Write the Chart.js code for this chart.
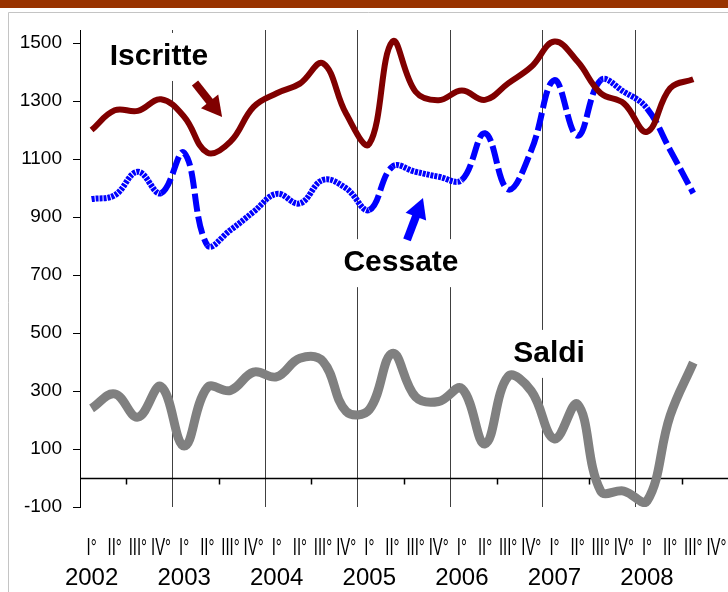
<!DOCTYPE html>
<html>
<head>
<meta charset="utf-8">
<script src="https://cdn.jsdelivr.net/npm/chart.js@4.4.1/dist/chart.umd.min.js"></script>
<style>
    body { margin: 0; background: #fff; }
    canvas { display: block; }
</style>
</head>
<body>
<canvas id="myChart" width="728" height="592"></canvas>
<script>

const years = ['2002', '2003', '2004', '2005', '2006', '2007', '2008'];
const quarters = ['I°', 'II°', 'III°', 'IV°'];

// quarterly values, I° 2002 .. III° 2008
const iscritte = [1200, 1268, 1266, 1306, 1246, 1122, 1160, 1280, 1327, 1360, 1430, 1256, 1152, 1505,
    1332, 1303, 1336, 1304, 1361, 1418, 1505, 1436, 1327, 1292, 1194, 1344, 1375];
const cessate = [962, 975, 1056, 982, 1122, 803, 855, 918, 980, 947, 1028, 999, 924, 1074,
    1056, 1039, 1028, 1189, 995, 1130, 1372, 1180, 1372, 1332, 1275, 1131, 982];
const saldi = [240, 290, 210, 315, 110, 312, 302, 365, 349, 413, 402, 230, 236, 430,
    280, 264, 308, 118, 350, 300, 135, 254, -45, -45, -80, 215, 398];

const yTicks = [-100, 100, 300, 500, 700, 900, 1100, 1300, 1500];

const font = "'Liberation Sans', Arial, sans-serif";

function buildLabels() {
    let labels = [];
    years.forEach(year => {
        quarters.forEach(q => {
            labels.push(q + ' ' + year);
        });
    });
    return labels;
}

function prepareData(labels) {
    let myData = {
        labels: labels,
        datasets: [
            {
                label: 'Iscritte',
                data: iscritte,
                borderColor: '#800000',
                borderWidth: 6,
                pointRadius: 0,
                tension: 0.4,
                fill: false
            },
            {
                label: 'Cessate',
                data: cessate,
                borderColor: '#0000ff',
                borderWidth: 6,
                borderCapStyle: 'butt',
                pointRadius: 0,
                tension: 0.4,
                fill: false,
                segment: {
                    borderDash: ctx => Math.abs(ctx.p1.parsed.y - ctx.p0.parsed.y) > 130 ? [18, 5] : [3, 1]
                }
            },
            {
                label: 'Saldi',
                data: saldi,
                borderColor: '#808080',
                borderWidth: 9,
                pointRadius: 0,
                tension: 0.4,
                fill: false
            }
        ]
    };
    return myData;
}

function drawArrow(c, x0, y0, x1, y1, color) {
    let dx = x1 - x0, dy = y1 - y0;
    let len = Math.sqrt(dx * dx + dy * dy);
    let ux = dx / len, uy = dy / len;
    let bx = x1 - ux * 20, by = y1 - uy * 20;
    c.save();
    c.strokeStyle = color;
    c.fillStyle = color;
    c.lineWidth = 8;
    c.beginPath();
    c.moveTo(x0, y0);
    c.lineTo(bx + ux * 2, by + uy * 2);
    c.stroke();
    c.beginPath();
    c.moveTo(x1, y1);
    c.lineTo(bx - uy * 11, by + ux * 11);
    c.lineTo(bx + uy * 11, by - ux * 11);
    c.closePath();
    c.fill();
    c.restore();
}

function drawNote(c, text, x, y) {
    c.save();
    c.font = 'bold 30px ' + font;
    let w = c.measureText(text).width;
    c.fillStyle = '#fff';
    c.fillRect(x - w / 2 - 10, y - 24, w + 20, 48);
    c.fillStyle = '#000';
    c.textAlign = 'center';
    c.textBaseline = 'middle';
    c.fillText(text, x, y);
    c.restore();
}

const extras = {
    id: 'extras',
    beforeDraw(chart) {
        let c = chart.ctx;
        c.save();
        c.fillStyle = '#fff';
        c.fillRect(0, 0, chart.width, chart.height);
        c.fillStyle = '#993300';
        c.fillRect(0, 0, chart.width, 8);
        c.strokeStyle = '#c4c4c4';
        c.lineWidth = 1;
        c.beginPath();
        c.moveTo(8.5, chart.height);
        c.lineTo(8.5, 12.5);
        c.lineTo(chart.width, 12.5);
        c.stroke();
        c.restore();
    },
    afterDraw(chart) {
        // quarter row of the category axis, drawn narrow like the original
        let c = chart.ctx;
        let xs = chart.scales.x;
        c.save();
        c.font = '24px ' + font;
        c.fillStyle = '#000';
        c.textAlign = 'center';
        c.textBaseline = 'middle';
        xs.ticks.forEach((t, i) => {
            c.save();
            c.translate(xs.getPixelForTick(i), chart.chartArea.bottom + 41);
            c.scale(0.62, 1);
            c.fillText(quarters[i % 4], 0, 0);
            c.restore();
        });
        c.restore();
    },
    beforeDatasetsDraw(chart) {
        let c = chart.ctx;
        let xs = chart.scales.x, ys = chart.scales.y;
        let area = chart.chartArea;
        let y0 = Math.round(ys.getPixelForValue(0)) + 0.5;
        let half = (xs.getPixelForValue(1) - xs.getPixelForValue(0)) / 2;
        c.save();
        c.strokeStyle = '#000';
        c.lineWidth = 1.5;
        c.beginPath();
        c.moveTo(area.left, y0);
        c.lineTo(area.right, y0);
        for (let i = 2; i < xs.ticks.length; i += 4) {
            let px = Math.round(xs.getPixelForValue(i) - half) + 0.5;
            c.moveTo(px, y0);
            c.lineTo(px, y0 + 6);
        }
        c.stroke();
        c.restore();

        let px = v => xs.getPixelForValue(v);
        let py = v => ys.getPixelForValue(v);
        drawNote(c, 'Iscritte', px(2.91), py(1452));
        drawNote(c, 'Cessate', px(13.37), py(741));
        drawNote(c, 'Saldi', px(19.77), py(428));
        drawArrow(c, px(4.47), py(1362), px(5.64), py(1245), '#800000');
        drawArrow(c, px(13.63), py(821), px(14.32), py(966), '#0000ff');
    }
};

function drawChart(data) {
    let options = {
        responsive: false,
        animation: false,
        layout: { padding: { top: 30, left: 0, right: 0, bottom: 0 } },
        plugins: {
            legend: { display: false },
            tooltip: { enabled: false }
        },
        scales: {
            x: {
                offset: true,
                grid: {
                    offset: true,
                    drawTicks: false,
                    lineWidth: 1,
                    color: c => (c.index !== undefined && c.index % 4 === 0) ? '#404040' : 'rgba(0,0,0,0)'
                },
                border: { display: false },
                ticks: {
                    autoSkip: false,
                    maxRotation: 0,
                    minRotation: 0,
                    padding: 56,
                    color: '#000',
                    font: { family: font, size: 24, lineHeight: 1.25 },
                    callback: (v, i) => i % 4 === 0 ? years[i / 4] : ''
                },
                afterFit: s => {
                    s.height = 85;
                    s.paddingLeft = 0;
                    s.paddingRight = 0;
                }
            },
            y: {
                min: -100,
                max: 1545,
                grid: {
                    drawOnChartArea: false,
                    drawTicks: true,
                    tickLength: 7,
                    color: '#000'
                },
                border: { display: true, color: '#000', width: 1 },
                ticks: {
                    padding: 11,
                    color: '#000',
                    font: { family: font, size: 19 },
                    callback: v => String(v)
                },
                afterBuildTicks: s => {
                    s.ticks = yTicks.map(v => ({ value: v }));
                },
                afterFit: s => {
                    s.width = 80;
                }
            }
        }
    };

    let ctx = document.getElementById('myChart').getContext('2d');
    let myLineChart = new Chart(ctx, {
        type: 'line',
        data: data,
        options: options,
        plugins: [extras]
    });
}

let labels = buildLabels();
let myData = prepareData(labels);
drawChart(myData);
</script>
</body>
</html>
